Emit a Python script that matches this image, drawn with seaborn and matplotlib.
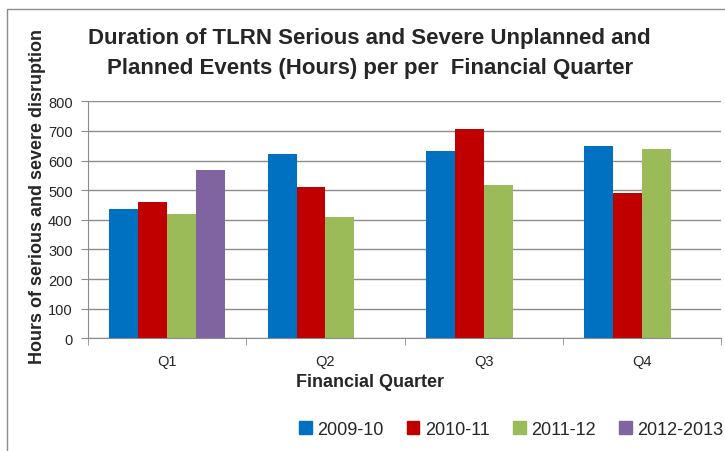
import matplotlib
matplotlib.use("Agg")
import matplotlib.pyplot as plt
from matplotlib.patches import Rectangle
from matplotlib.ticker import FixedLocator
import numpy as np
import pandas as pd
import seaborn as sns

# %% data
quarters = ['Q1', 'Q2', 'Q3', 'Q4']
years = ['2009-10', '2010-11', '2011-12', '2012-2013']
hours_0910 = [436, 621, 632, 648]
hours_1011 = [461, 512, 706, 490]
hours_1112 = [420, 409, 518, 640]
hours_1213 = [568, np.nan, np.nan, np.nan]
colors = ['#0070C0', '#C00000', '#9BBB59', '#8064A2']

df = pd.DataFrame({
    'quarter': quarters * 4,
    'year': np.repeat(years, 4),
    'hours': hours_0910 + hours_1011 + hours_1112 + hours_1213,
})

# %% plot
sns.set_style('white')
plt.rcParams['font.family'] = ['Liberation Sans', 'DejaVu Sans']

fig = plt.figure(figsize=(7.25, 4.52), dpi=100)
ax = fig.add_axes([0.1214, 0.2493, 0.8731, 0.5244])

sns.barplot(data=df, x='quarter', y='hours', hue='year', order=quarters,
            hue_order=years, palette=colors, width=0.73, gap=0,
            saturation=1, linewidth=0, ax=ax, legend=True)

ax.set_ylim(0, 800)
ax.set_xlim(-0.5, 3.5)
ax.set_yticks(range(0, 801, 100))
ax.yaxis.grid(True, color='#8c8c8c', linewidth=1)
ax.set_axisbelow(True)
for s in ['top', 'right']:
    ax.spines[s].set_visible(False)
for s in ['left', 'bottom']:
    ax.spines[s].set_color('#8c8c8c')
ax.tick_params(axis='y', left=True, length=5, color='#8c8c8c', labelsize=10.5, pad=6)
ax.tick_params(axis='x', which='major', bottom=False, labelsize=10.5, pad=8)
ax.xaxis.set_minor_locator(FixedLocator([-0.5, 0.5, 1.5, 2.5, 3.5]))
ax.tick_params(axis='x', which='minor', bottom=True, length=5, color='#8c8c8c')
ax.set_xlabel('')
ax.set_ylabel('')

fig.text(0.510, 0.153, 'Financial Quarter', ha='center', va='center',
         fontsize=13, fontweight='bold')
fig.text(0.052, 0.566, 'Hours of serious and severe disruption', ha='center',
         va='center', rotation=90, fontsize=13, fontweight='bold')
fig.text(0.51, 0.882, 'Duration of TLRN Serious and Severe Unplanned and\n'
         'Planned Events (Hours) per per  Financial Quarter',
         ha='center', va='center', fontsize=16, fontweight='bold',
         linespacing=1.6)

ax.legend_.remove()
handles = [Rectangle((0, 0), 1, 1, color=c) for c in colors]
fig.legend(handles, years, loc='center', bbox_to_anchor=(0.705, 0.048),
           ncol=4, frameon=False, fontsize=13, handlelength=0.7,
           handleheight=0.7, handletextpad=0.3, columnspacing=1.3)

# outer border
fig.patches.append(Rectangle((7 / 725, -0.1), 1.2, 1 - 10 / 452 + 0.1,
                             transform=fig.transFigure, fill=False,
                             edgecolor='#8c8c8c', linewidth=1))

fig.savefig('out.png', dpi=100)
